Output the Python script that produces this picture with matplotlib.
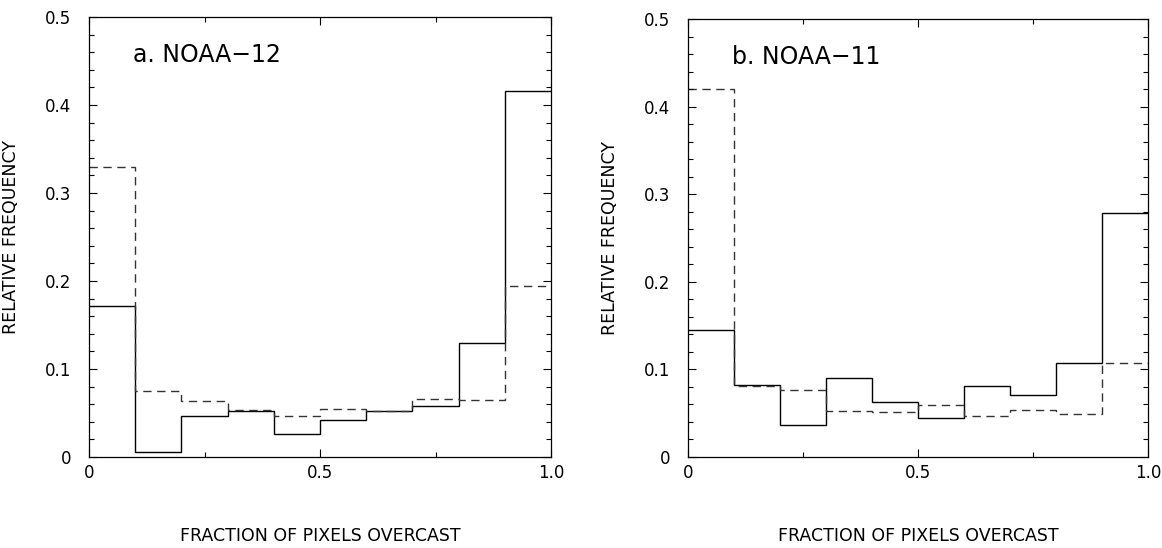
import matplotlib
matplotlib.use("Agg")
import matplotlib.pyplot as plt
import numpy as np
from matplotlib.ticker import FixedLocator, FuncFormatter

# bin edges: fraction of pixels overcast
edges = np.linspace(0.0, 1.0, 11)

# a. NOAA-12
noaa12_solid = [0.172, 0.006, 0.047, 0.052, 0.026, 0.042, 0.052, 0.058, 0.130, 0.416]
noaa12_dash = [0.330, 0.075, 0.064, 0.053, 0.047, 0.054, 0.052, 0.066, 0.065, 0.194]

# b. NOAA-11
noaa11_solid = [0.145, 0.082, 0.036, 0.090, 0.063, 0.045, 0.081, 0.071, 0.107, 0.279]
noaa11_dash = [0.420, 0.081, 0.076, 0.053, 0.051, 0.059, 0.047, 0.054, 0.049, 0.107]

panels = [
    ("a. NOAA\u221212", noaa12_solid, noaa12_dash, [89 / 1162, 1 - 457 / 548, 462 / 1162, 440 / 548]),
    ("b. NOAA\u221211", noaa11_solid, noaa11_dash, [688 / 1162, 1 - 457 / 548, 460 / 1162, 438 / 548]),
]

plt.rcParams['font.family'] = ['DejaVu Sans']

fig = plt.figure(figsize=(11.62, 5.48), dpi=100)

def yfmt(v, pos):
    return "0" if abs(v) < 1e-9 else f"{v:.1f}"

def xfmt(v, pos):
    if abs(v) < 1e-9:
        return "0"
    return f"{v:.1f}"

for title, solid, dash, rect in panels:
    ax = fig.add_axes(rect)
    ax.stairs(solid, edges, color="black", linewidth=1.0, baseline=None)
    ax.stairs(dash, edges, color="#333333", linewidth=1.0, linestyle=(0, (6, 4)), baseline=None)
    ax.set_xlim(0, 1.0)
    ax.set_ylim(0, 0.5)

    ax.xaxis.set_major_locator(FixedLocator([0, 0.5, 1.0]))
    ax.xaxis.set_minor_locator(FixedLocator([0.25, 0.75]))
    ax.yaxis.set_major_locator(FixedLocator([0, 0.1, 0.2, 0.3, 0.4, 0.5]))
    ax.yaxis.set_minor_locator(FixedLocator(np.arange(0, 0.5001, 0.02)))
    ax.xaxis.set_major_formatter(FuncFormatter(xfmt))
    ax.yaxis.set_major_formatter(FuncFormatter(yfmt))

    ax.tick_params(which="both", direction="in", top=True, right=True, width=0.8)
    ax.tick_params(which="major", length=6)
    ax.tick_params(which="minor", length=3.5)
    ax.tick_params(axis="y", which="major", labelsize=12, pad=13)
    ax.tick_params(axis="x", which="major", labelsize=12, pad=5)
    for s in ax.spines.values():
        s.set_linewidth(0.9)

    ax.set_xlabel("FRACTION OF PIXELS OVERCAST", fontsize=12.5)
    ax.xaxis.set_label_coords(0.5, -0.16)
    ax.set_ylabel("RELATIVE FREQUENCY", fontsize=12.5)
    ax.yaxis.set_label_coords(-0.149, 0.5)

    ax.text(0.096, 0.914, title, transform=ax.transAxes, fontsize=17,
            ha="left", va="center")

fig.savefig("out.png", dpi=100)
